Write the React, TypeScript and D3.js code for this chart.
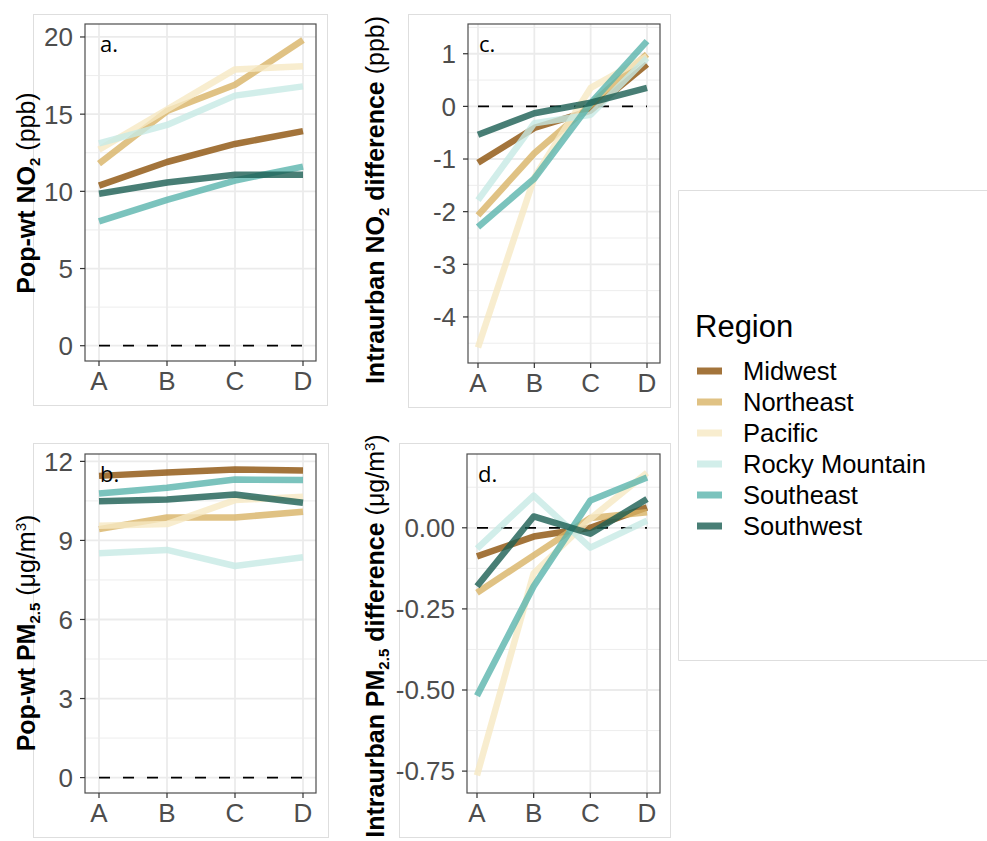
import React from "react";
import * as d3 from "d3";

const periods = ["A", "B", "C", "D"];
const regions = ["Midwest", "Northeast", "Pacific", "Rocky Mountain", "Southeast", "Southwest"];
const regionColors = ["#8c510a", "#d8b365", "#f6e8c3", "#c7eae5", "#5ab4ac", "#1a5e52"];

// a. Pop-wt NO2 (ppb)
const no2Midwest = [10.37, 11.9, 13.07, 13.9];
const no2Northeast = [11.8, 15.2, 16.9, 19.8];
const no2Pacific = [12.7, 15.3, 17.9, 18.1];
const no2Rocky = [13.1, 14.3, 16.2, 16.8];
const no2Southeast = [8.05, 9.45, 10.7, 11.6];
const no2Southwest = [9.84, 10.57, 11.07, 11.07];

// b. Pop-wt PM2.5 (ug/m3)
const pmMidwest = [11.45, 11.58, 11.69, 11.65];
const pmNortheast = [9.43, 9.87, 9.87, 10.09];
const pmPacific = [9.56, 9.62, 10.53, 10.66];
const pmRocky = [8.51, 8.64, 8.03, 8.36];
const pmSoutheast = [10.78, 11.0, 11.31, 11.29];
const pmSouthwest = [10.49, 10.55, 10.74, 10.43];

// c. Intraurban NO2 difference (ppb)
const dNo2Midwest = [-1.07, -0.41, -0.08, 0.8];
const dNo2Northeast = [-2.07, -0.89, 0.03, 0.99];
const dNo2Pacific = [-4.58, -1.35, 0.35, 0.95];
const dNo2Rocky = [-1.78, -0.32, -0.16, 0.92];
const dNo2Southeast = [-2.29, -1.37, 0.06, 1.24];
const dNo2Southwest = [-0.54, -0.13, 0.07, 0.35];

// d. Intraurban PM2.5 difference (ug/m3)
const dPmMidwest = [-0.088, -0.027, 0.0, 0.063];
const dPmNortheast = [-0.2, -0.085, 0.03, 0.048];
const dPmPacific = [-0.763, -0.14, 0.028, 0.17];
const dPmRocky = [-0.064, 0.099, -0.061, 0.022];
const dPmSoutheast = [-0.518, -0.18, 0.084, 0.155];
const dPmSouthwest = [-0.18, 0.035, -0.018, 0.089];

const ticksA = [0, 5, 10, 15, 20];
const ticksB = [0, 3, 6, 9, 12];
const ticksC = [-4, -3, -2, -1, 0, 1];
const ticksD = [-0.75, -0.5, -0.25, 0];

const domainA = [-0.99, 20.84];
const domainB = [-0.585, 12.28];
const domainC = [-4.875, 1.565];
const domainD = [-0.8175, 0.2275];

const zeroLine = [0, 0, 0, 0];

const FONT = "'Liberation Sans', Arial, Helvetica, sans-serif";

type Panel = {
  label: string;
  series: number[][];
  domain: number[];
  ticks: number[];
  fmt: (v: number) => string;
  plot: { x0: number; x1: number; y0: number; y1: number };
  xr: number[];
  box: { x0: number; x1: number; y0: number; y1: number };
  titleX: number;
  titleY: number;
  title: React.ReactNode;
  clip?: { x: number; y: number; w: number; h: number };
};

const sub = (t: string, bold: boolean) => (
  <tspan fontSize={15} dy={5} fontWeight={bold ? "bold" : "normal"}>{t}</tspan>
);

const panels: Panel[] = [
  {
    label: "a.",
    series: [no2Midwest, no2Northeast, no2Pacific, no2Rocky, no2Southeast, no2Southwest],
    domain: domainA,
    ticks: ticksA,
    fmt: (v) => String(v),
    plot: { x0: 85, x1: 316, y0: 24, y1: 361 },
    xr: [99, 303],
    box: { x0: 33, x1: 327, y0: 14, y1: 405 },
    titleX: 35,
    titleY: 193,
    title: (
      <>
        <tspan fontWeight="bold">Pop-wt NO</tspan>
        {sub("2", true)}
        <tspan dy={-5}> (ppb)</tspan>
      </>
    ),
  },
  {
    label: "b.",
    series: [pmMidwest, pmNortheast, pmPacific, pmRocky, pmSoutheast, pmSouthwest],
    domain: domainB,
    ticks: ticksB,
    fmt: (v) => String(v),
    plot: { x0: 85, x1: 316, y0: 454, y1: 793 },
    xr: [99, 303],
    box: { x0: 33, x1: 328, y0: 443, y1: 837 },
    titleX: 35,
    titleY: 633,
    title: (
      <>
        <tspan fontWeight="bold">Pop-wt PM</tspan>
        {sub("2.5", true)}
        <tspan dy={-5}> (μg/m</tspan>
        <tspan fontSize={15} dy={-9}>3</tspan>
        <tspan dy={9}>)</tspan>
      </>
    ),
  },
  {
    label: "c.",
    series: [dNo2Midwest, dNo2Northeast, dNo2Pacific, dNo2Rocky, dNo2Southeast, dNo2Southwest],
    domain: domainC,
    ticks: ticksC,
    fmt: (v) => String(v),
    plot: { x0: 468, x1: 660, y0: 24, y1: 363 },
    xr: [478, 647],
    box: { x0: 408, x1: 670, y0: 14, y1: 407 },
    titleX: 384,
    titleY: 200,
    title: (
      <>
        <tspan fontWeight="bold">Intraurban NO</tspan>
        {sub("2", true)}
        <tspan dy={-5} fontWeight="bold"> difference</tspan>
        <tspan> (ppb)</tspan>
      </>
    ),
  },
  {
    label: "d.",
    series: [dPmMidwest, dPmNortheast, dPmPacific, dPmRocky, dPmSoutheast, dPmSouthwest],
    domain: domainD,
    ticks: ticksD,
    fmt: (v) => v.toFixed(2),
    plot: { x0: 467, x1: 660, y0: 454, y1: 793 },
    xr: [477, 647],
    box: { x0: 399, x1: 670, y0: 443, y1: 837 },
    titleX: 384,
    titleY: 636,
    clip: { x: 340, y: 431, w: 340, h: 410 },
    title: (
      <>
        <tspan fontWeight="bold">Intraurban PM</tspan>
        {sub("2.5", true)}
        <tspan dy={-5} fontWeight="bold"> difference</tspan>
        <tspan> (μg/m</tspan>
        <tspan fontSize={15} dy={-9}>3</tspan>
        <tspan dy={9}>)</tspan>
      </>
    ),
  },
];

function PanelView({ p, idx }: { p: Panel; idx: number }) {
  const x = d3.scalePoint<string>().domain(periods).range(p.xr as [number, number]);
  const y = d3.scaleLinear().domain(p.domain).range([p.plot.y1, p.plot.y0]);
  const step = p.ticks[1] - p.ticks[0];
  const minor: number[] = [];
  for (let v = p.ticks[0] - step / 2; v <= p.domain[1]; v += step) {
    if (v >= p.domain[0]) minor.push(v);
  }
  const line = d3
    .line<number>()
    .x((_, i) => x(periods[i]) as number)
    .y((d) => y(d));
  const clipId = `clip-title-${idx}`;
  return (
    <g>
      <rect x={p.box.x0 + 0.5} y={p.box.y0 + 0.5} width={p.box.x1 - p.box.x0} height={p.box.y1 - p.box.y0} fill="none" stroke="#dedede" strokeWidth={1} />
      {minor.map((v) => (
        <line key={"mn" + v} x1={p.plot.x0} x2={p.plot.x1} y1={y(v)} y2={y(v)} stroke="#ebebeb" strokeWidth={0.9} />
      ))}
      {p.ticks.map((v) => (
        <line key={"mj" + v} x1={p.plot.x0} x2={p.plot.x1} y1={y(v)} y2={y(v)} stroke="#ebebeb" strokeWidth={1.8} />
      ))}
      {periods.map((c) => (
        <line key={"vx" + c} x1={x(c)} x2={x(c)} y1={p.plot.y0} y2={p.plot.y1} stroke="#ebebeb" strokeWidth={1.8} />
      ))}
      <path d={line(zeroLine) || ""} fill="none" stroke="#000" strokeWidth={1.8} strokeDasharray="11,13" />
      {p.series.map((s, i) => (
        <path
          key={regions[i]}
          d={line(s) || ""}
          fill="none"
          stroke={regionColors[i]}
          strokeOpacity={0.8}
          strokeWidth={6.5}
          strokeLinejoin="round"
          strokeLinecap="butt"
        />
      ))}
      <rect x={p.plot.x0} y={p.plot.y0} width={p.plot.x1 - p.plot.x0} height={p.plot.y1 - p.plot.y0} fill="none" stroke="#4d4d4d" strokeWidth={1.2} />
      {p.ticks.map((v) => (
        <g key={"yt" + v}>
          <line x1={p.plot.x0 - 5} x2={p.plot.x0} y1={y(v)} y2={y(v)} stroke="#333" strokeWidth={1.2} />
          <text x={p.plot.x0 - 12} y={y(v)} dy="0.36em" textAnchor="end" fontSize={26} fill="#4d4d4d" fontFamily={FONT}>
            {p.fmt(v)}
          </text>
        </g>
      ))}
      {periods.map((c) => (
        <g key={"xt" + c}>
          <line x1={x(c)} x2={x(c)} y1={p.plot.y1} y2={p.plot.y1 + 5} stroke="#333" strokeWidth={1.2} />
          <text x={x(c)} y={p.plot.y1 + 29} textAnchor="middle" fontSize={26} fill="#4d4d4d" fontFamily={FONT}>
            {c}
          </text>
        </g>
      ))}
      <text x={(x("A") as number) + 1} y={p.plot.y0 + 28} fontSize={22} fill="#000" fontFamily="'Open Sans', sans-serif">
        {p.label}
      </text>
      {p.clip && (
        <clipPath id={clipId}>
          <rect x={p.clip.x} y={p.clip.y} width={p.clip.w} height={p.clip.h} />
        </clipPath>
      )}
      <g clipPath={p.clip ? `url(#${clipId})` : undefined}>
        <text
          transform={`translate(${p.titleX},${p.titleY}) rotate(-90)`}
          textAnchor="middle"
          fontSize={25}
          fill="#000"
          fontFamily={FONT}
        >
          {p.title}
        </text>
      </g>
    </g>
  );
}

function Legend() {
  const y0 = 371;
  const gap = 31;
  return (
    <g>
      <line x1={678.5} x2={987} y1={190.5} y2={190.5} stroke="#dedede" />
      <line x1={678.5} x2={987} y1={660.5} y2={660.5} stroke="#dedede" />
      <line x1={678.5} x2={678.5} y1={190.5} y2={660.5} stroke="#dedede" />
      <text x={695} y={337} fontSize={31} fill="#000" fontFamily={FONT}>
        Region
      </text>
      {regions.map((r, i) => (
        <g key={r}>
          <line x1={697} x2={722} y1={y0 + i * gap} y2={y0 + i * gap} stroke={regionColors[i]} strokeOpacity={0.8} strokeWidth={7} />
          <text x={743} y={y0 + i * gap + 9} fontSize={25.5} fill="#000" fontFamily={FONT}>
            {r}
          </text>
        </g>
      ))}
    </g>
  );
}

export default function App() {
  return (
    <div style={{ position: "absolute", left: 0, top: 0 }}>
      <svg width={987} height={841} style={{ display: "block", background: "#fff" }}>
        <rect width={987} height={841} fill="#fff" />
        {panels.map((p, i) => (
          <PanelView key={p.label} p={p} idx={i} />
        ))}
        <Legend />
      </svg>
    </div>
  );
}
